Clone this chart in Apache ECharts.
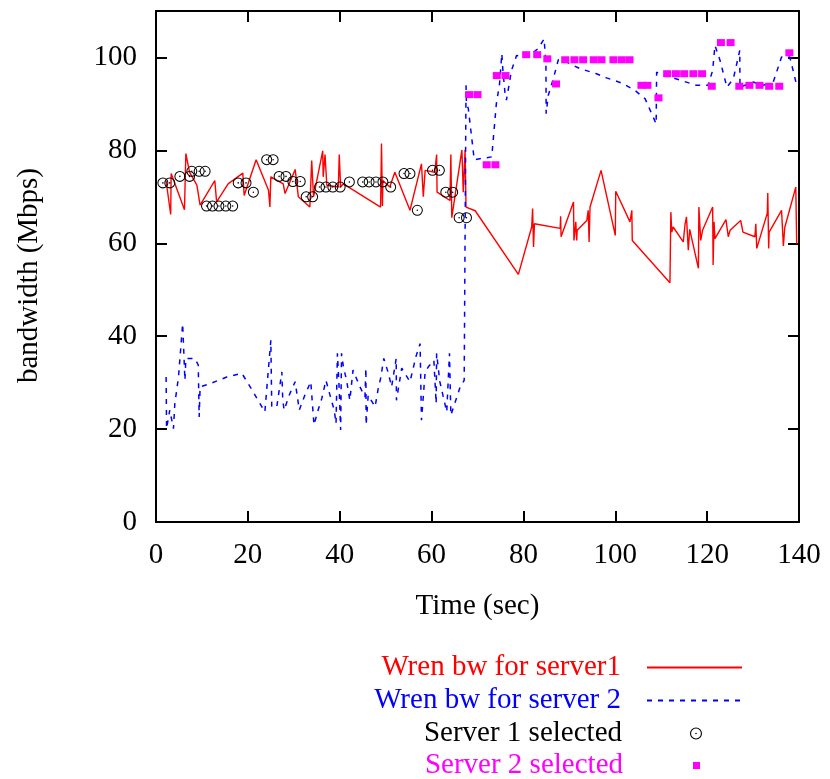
<!DOCTYPE html>
<html>
<head>
<meta charset="utf-8">
<script src="https://cdn.jsdelivr.net/npm/echarts@6/dist/echarts.min.js"></script>
<style>html,body{margin:0;padding:0;background:#fff}#c{width:830px;height:779px}</style>
</head>
<body>
<div id="c"></div>
<script>
// Wren bandwidth for server 1: [time (sec), Mbps]
const server1Bw = [
 [2.2,73.4],[3.2,66.2],[3.3,75],[6.2,67.2],[6.5,79.3],[7.3,75.3],[8.9,72.5],[9.6,68.2],
 [12.8,73.5],[13.2,68.9],[15.7,72.8],[18.9,75.1],[19.2,70.3],[21.8,78],[24.5,71.4],[24.8,67.8],
 [25,74.3],[27.7,72.8],[28.1,70.7],[30.3,75.9],[31,70],[33.5,67.8],[33.9,77.8],[34.3,70],
 [36.3,79.9],[36.4,74.3],[36.8,79.1],[37.2,72.5],[39.7,72.1],[39.9,79.1],[40.2,72.1],[40.8,72.8],
 [48.9,67.8],[49.1,81.5],[49.3,68],[49.4,73.5],[50.9,72.1],[52,75.3],[55.3,67.1],[57.8,77.1],
 [58.2,70],[58.6,75.7],[60.7,75.3],[61.1,79.1],[61.2,71],[64,69.2],[64.2,79.1],[64.4,65.5],
 [66.6,80.1],[66.9,71],[67.3,80.1],[67.5,67.8],[69.5,67],[78.9,53.3],[81.8,63.5],[82,67.5],
 [82.2,59.2],[82.4,64.2],[88,63.2],[88.1,65.8],[88.2,61.4],[90.9,68.9],[91,60.6],[91.4,64.6],
 [91.6,60.6],[91.7,62.8],[93.8,64.9],[94.1,67.1],[94.3,60.3],[94.5,67.8],[96.9,75.7],[100,61.7],
 [100.1,71.2],[103.2,64.6],[103.6,67.1],[103.7,60.6],[111.9,51.5],[112.1,66.7],[112.3,62.4],[112.6,63.5],
 [114.8,60.3],[115.2,64.2],[115.5,65.7],[115.9,58.5],[116.2,63],[118.1,54.6],[118.2,67.8],[118.6,60.6],
 [119,62.8],[121.2,67.8],[121.3,55.3],[121.5,64.6],[121.7,61],[124.1,65.1],[124.6,61.4],[125,62.8],
 [127.3,64.9],[127.8,62.4],[130.4,61.4],[130.6,64.2],[130.8,58.9],[133.1,66.5],[133.2,70.8],[133.4,58.9],
 [133.5,62.4],[136.2,67.1],[136.6,59.4],[136.9,63.4],[139.3,72.1],[139.5,59.9]
];
// Wren bandwidth for server 2: [time (sec), Mbps]
const server2Bw = [
 [2.2,31.2],[2.3,20.1],[3,24.1],[3.8,20.1],[4.1,25.5],[4.9,31.2],[5.8,42.7],[6.3,30.5],
 [6.5,35.2],[8.5,35.2],[9.2,33.8],[9.4,22.6],[9.6,29.1],[11.8,29.8],[15.4,31.2],[18.7,32],
 [20.5,29.1],[23.7,23.7],[25,39.1],[25.2,24.8],[26.3,24.8],[27.4,32.3],[27.6,26.2],[27.9,24.1],
 [29,27.3],[30.3,30.2],[31.2,24.1],[32.4,27.3],[33.7,30.2],[34.4,20.9],[35.3,24.1],[36.1,26.6],
 [37,30.5],[38,26.9],[38.8,24.1],[39.2,21.2],[39.5,36.3],[39.9,28.4],[40.2,19.8],[40.4,36.3],
 [40.8,33.4],[41.5,30.5],[42.2,26.2],[42.9,32.7],[44.4,29.1],[45.5,26.9],[45.7,33.1],[45.75,20.9],
 [46.2,27.3],[47.7,24.8],[48.4,28.8],[48.9,30.9],[49.6,35.2],[50.6,32],[51.3,29.1],[52.3,35.2],
 [52.35,26.2],[53.5,33.1],[55.3,30.2],[56.6,35.6],[57.5,38.4],[57.8,21.9],[58.6,32.3],[59.3,33.4],
 [60.5,34.8],[61,25.5],[61.1,36.3],[61.8,30.2],[63.3,23.7],[63.9,36.3],[64.2,23],[66.2,29],
 [67.1,30.5],[67.5,94],[67.6,90],[68,89],[69.1,79.6],[69.3,78],[73.1,78.6],[74.1,90],
 [74.8,94.3],[75.3,100.8],[75.5,97.6],[76,92.2],[76.3,90.8],[77.4,97.2],[78.5,100.4],[80.7,100.1],
 [83.2,101.9],[84.5,104],[84.9,98.6],[84.95,87.9],[85.4,91.8],[86.5,95.4],[87.6,99.5],[89.4,99],
 [92.3,97.6],[95.9,96.5],[98.1,95.6],[101.4,94.5],[104.3,92.9],[106.5,91.1],[108.9,85.7],[109,96.8],
 [111.9,95.8],[114.8,94.9],[117.7,94],[120.2,94],[121.2,97.2],[121.7,102.6],[122.8,99.4],[124.3,93.6],
 [125.7,95.4],[127.1,101.5],[127.15,93.6],[130,94.7],[132.2,94],[134.4,94.7],[136.2,100.1],[138,100.1],
 [139.5,94]
];
// Server 1 selected: [time (sec), Mbps]
const server1Selected = [
 [1.5,73],[3,73],[5.2,74.4],[7.3,74.4],[7.8,75.5],[9.4,75.5],[10.7,75.5],[11,68],
 [12.3,68],[13.7,68],[15.2,68],[16.7,68],[17.9,73],[19.6,73],[21.2,71],[24.1,78],
 [25.5,78],[26.8,74.4],[28.3,74.4],[29.8,73.3],[31.4,73.3],[32.7,70],[34.1,70],[35.6,72.1],
 [37,72.1],[38.5,72.1],[40.1,72.1],[42.1,73.2],[45,73.2],[46.4,73.2],[47.9,73.2],[49.4,73.2],
 [51.1,72.1],[54,75],[55.3,75],[56.9,67.1],[60.2,75.7],[61.7,75.7],[63.1,71],[64.6,71],
 [66,65.5],[67.6,65.5]
];
// Server 2 selected: [time (sec), Mbps]
const server2Selected = [
 [68.2,92],[70,92],[72,76.9],[73.9,76.9],[74.2,96.1],[76.1,96.1],[80.6,100.6],[83,100.6],
 [85.2,99.7],[87.1,94.3],[89.1,99.5],[91.1,99.5],[93,99.5],[95.3,99.5],[97,99.5],[99.6,99.5],
 [101.4,99.5],[103.1,99.5],[105.7,94],[107,94],[109.4,91.3],[111.3,96.5],[113.2,96.5],[115,96.5],
 [117,96.5],[118.9,96.5],[121,93.8],[123,103.2],[125.1,103.2],[127,93.8],[129.2,94],[131.4,94],
 [133.5,93.8],[135.7,93.8],[137.9,101]
];
const xTicks = [0, 20, 40, 60, 80, 100, 120, 140];
const yTicks = [0, 20, 40, 60, 80, 100];

const FONT = 'Liberation Serif';
const ringDot = 'path://M13,0A13,13 0 1,1 13,26A13,13 0 1,1 13,0Z M13,2.4A10.6,10.6 0 1,0 13,23.6A10.6,10.6 0 1,0 13,2.4Z M13,11.2A1.8,1.8 0 1,1 13,14.8A1.8,1.8 0 1,1 13,11.2Z';
const squarePath = 'path://M0,0H10V10H0Z';

const chart = echarts.init(document.getElementById('c'), null, {renderer: 'canvas'});
const axisLine = {show: true, onZero: false, lineStyle: {color: '#000', width: 2}};
const tickIn = {show: true, inside: true, length: 11, lineStyle: {color: '#000', width: 2}};
function mkLegend(item, color, top, right, itemWidth, itemHeight, padRight) {
  return {
    data: [item],
    orient: 'vertical', align: 'right', right: right, top: top, padding: 0,
    itemWidth: itemWidth, itemHeight: itemHeight, selectedMode: false,
    textStyle: {fontFamily: FONT, fontSize: 29, color: color, padding: [0, padRight, 0, 0]}
  };
}
chart.setOption({
  animation: false,
  backgroundColor: '#fff',
  grid: {left: 156, right: 31, top: 11, bottom: 257},
  xAxis: [{
    type: 'value', min: 0, max: 140, interval: 20,
    name: 'Time (sec)', nameLocation: 'middle', nameGap: 70,
    nameTextStyle: {fontFamily: FONT, fontSize: 29, color: '#000'},
    axisLine: axisLine, axisTick: tickIn, splitLine: {show: false},
    axisLabel: {fontFamily: FONT, fontSize: 29, color: '#000', margin: 19,
      formatter: v => xTicks.includes(v) ? String(v) : ''}
  }, {
    type: 'value', position: 'top', min: 0, max: 140, interval: 20,
    axisLine: axisLine, axisTick: tickIn, splitLine: {show: false}, axisLabel: {show: false}
  }],
  yAxis: [{
    type: 'value', min: 0, max: 110, interval: 20,
    name: 'bandwidth (Mbps)', nameLocation: 'middle', nameGap: 112, nameRotate: 90,
    nameTextStyle: {fontFamily: FONT, fontSize: 29, color: '#000', padding: [0, 18, 0, 0]},
    axisLine: axisLine, axisTick: tickIn, splitLine: {show: false},
    axisLabel: {fontFamily: FONT, fontSize: 29, color: '#000', margin: 19, showMaxLabel: false,
      formatter: v => yTicks.includes(v) ? String(v) : ''}
  }, {
    type: 'value', position: 'right', min: 0, max: 110, interval: 20,
    axisLine: axisLine, axisTick: tickIn, splitLine: {show: false}, axisLabel: {show: false}
  }],
  legend: [
    mkLegend({name: 'Wren bw for server1', itemStyle: {opacity: 0}}, '#ff0000', 653, 87, 95, 14, 21),
    mkLegend({name: 'Wren bw for server 2', itemStyle: {opacity: 0}}, '#0000ff', 686, 87, 95, 14, 21),
    mkLegend({name: 'Server 1 selected', icon: ringDot}, '#000000', 719, 128, 12, 12, 63),
    mkLegend({name: 'Server 2 selected', icon: squarePath}, '#ff00ff', 751, 130, 7, 7, 65)
  ],
  series: [{
    name: 'Wren bw for server1', type: 'line', data: server1Bw, symbol: 'none',
    lineStyle: {color: '#ff0000', width: 1.4}, itemStyle: {color: '#ff0000'}, z: 2
  }, {
    name: 'Wren bw for server 2', type: 'line', data: server2Bw, symbol: 'none',
    lineStyle: {color: '#0000ff', width: 1.5, type: [5, 6]}, itemStyle: {color: '#0000ff'}, z: 2
  }, {
    name: 'Server 1 selected', type: 'scatter', data: server1Selected,
    symbol: ringDot, symbolSize: 11, symbolKeepAspect: true,
    itemStyle: {color: '#000', opacity: 1}, z: 3
  }, {
    name: 'Server 2 selected', type: 'scatter', data: server2Selected,
    symbol: squarePath, symbolSize: [8, 7],
    itemStyle: {color: '#ff00ff', opacity: 1}, z: 4
  }]
});
</script>
</body>
</html>
